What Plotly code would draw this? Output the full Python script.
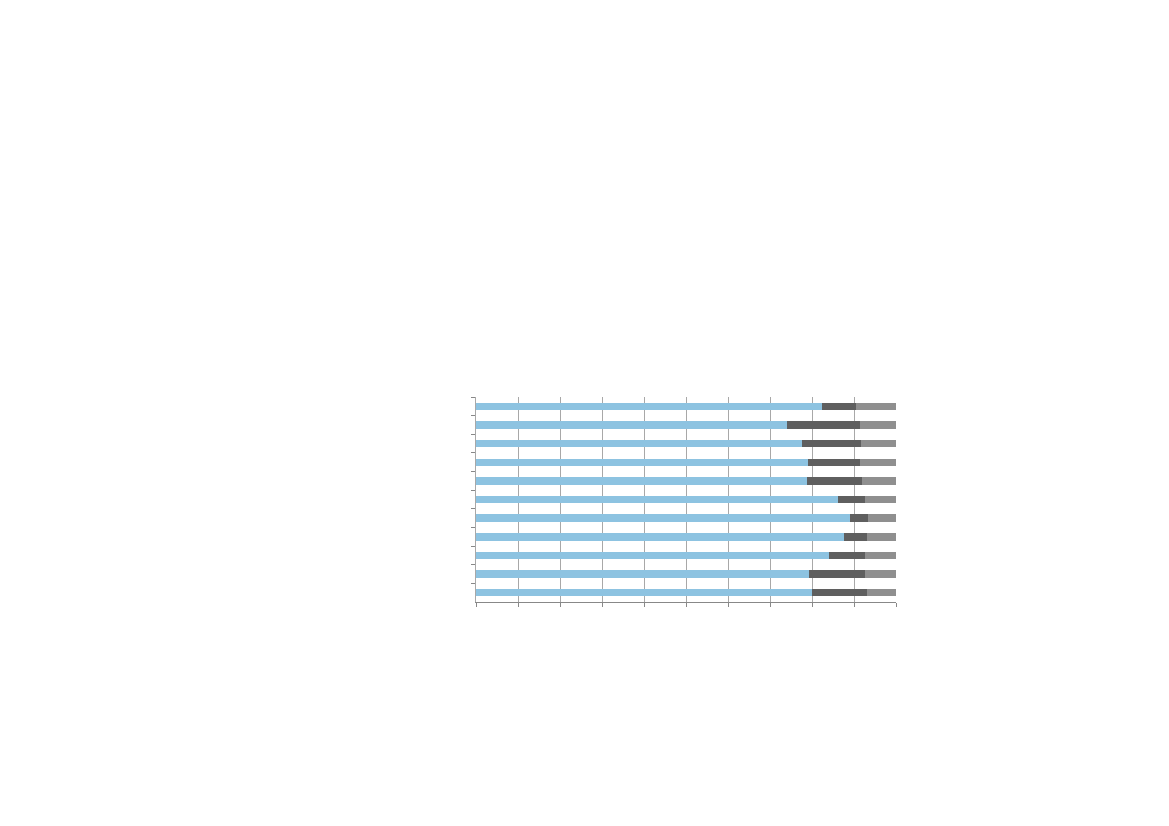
import plotly.graph_objects as go

# 11 rows, no labels in the original chart; shares in percent
categories = ["1", "2", "3", "4", "5", "6", "7", "8", "9", "10", "11"]
share_a = [82.4, 74.1, 77.7, 79.0, 78.9, 86.1, 89.0, 87.6, 84.1, 79.4, 80.0]
share_b = [8.1, 17.4, 14.0, 12.5, 13.1, 6.4, 4.4, 5.6, 8.6, 13.1, 13.2]
share_c = [9.5, 8.5, 8.3, 8.5, 8.0, 7.5, 6.6, 6.8, 7.3, 7.5, 6.8]

colors = ["#8DC3E1", "#5F5F5F", "#8F8F8F"]

fig = go.Figure()
for vals, col in zip([share_a, share_b, share_c], colors):
    fig.add_trace(go.Bar(
        x=vals, y=categories, orientation="h",
        marker=dict(color=col, line=dict(width=0)),
        hoverinfo="x",
    ))

fig.update_layout(
    barmode="stack",
    bargap=0.6,
    showlegend=False,
    width=1169, height=826,
    margin=dict(l=468, r=281, t=389, b=232),
    paper_bgcolor="white",
    plot_bgcolor="white",
)
fig.update_xaxes(
    range=[0, 100], dtick=10, tick0=0,
    showgrid=True, gridcolor="#A8A8A8", gridwidth=1,
    showline=True, linecolor="#888888", linewidth=1,
    ticks="outside", ticklen=4, tickcolor="#888888",
    showticklabels=False, zeroline=False, fixedrange=True,
)
fig.update_yaxes(
    autorange="reversed",
    showgrid=False,
    showline=True, linecolor="#A8A8A8", linewidth=1,
    ticks="outside", ticklen=4, tickcolor="#888888",
    tickson="boundaries",
    showticklabels=False, fixedrange=True,
)

fig.write_html("out.html")
